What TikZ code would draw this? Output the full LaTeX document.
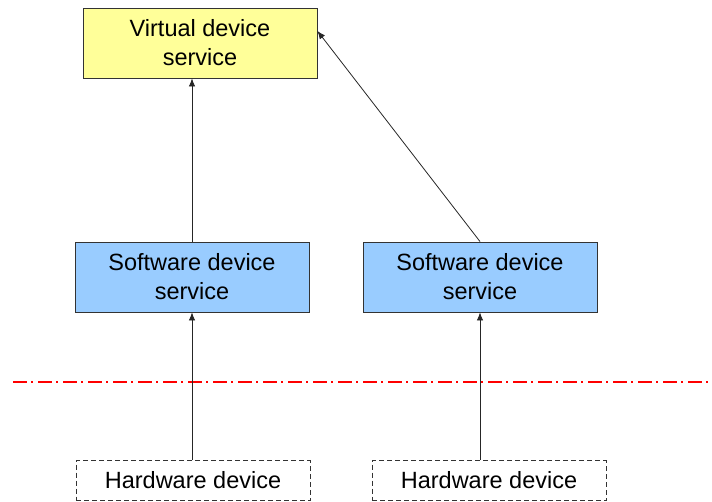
\documentclass[tikz,border=0pt]{standalone}
\usepackage{fontspec}
\setmainfont{Liberation Sans}
\usetikzlibrary{arrows.meta}
\definecolor{virtfill}{HTML}{FFFF99}
\definecolor{softfill}{HTML}{99CCFF}
\definecolor{boxline}{HTML}{333333}
\begin{document}
\begin{tikzpicture}[x=1pt,y=-1pt,
  box/.style={draw=boxline,line width=0.9pt,minimum width=234pt,minimum height=70pt,
    inner sep=0pt,align=center,font=\fontsize{23.5}{29}\selectfont},
  virt/.style={box,fill=virtfill},
  soft/.style={box,fill=softfill},
  hard/.style={box,draw=black!80,dashed,dash pattern=on 5pt off 3pt,minimum height=40pt,fill=white},
  link/.style={draw=black!85,line width=0.8pt,-{Latex[length=8pt,width=6.5pt]}}]
\useasboundingbox (0,0) rectangle (712,502);
% service layers
\node[virt] (virtual) at (200,43) {Virtual device\\service};
\node[soft] (swl) at (192,277) {Software device\\service};
\node[soft] (swr) at (480,277) {Software device\\service};
% hardware layer
\node[hard] (hwl) at (193,480.5) {Hardware device};
\node[hard] (hwr) at (489,480.5) {Hardware device};
% boundary between hardware and software
\coordinate (sepL) at (13,382);
\coordinate (sepR) at (712,382);
\draw[red,line width=1.2pt,dash pattern=on 14pt off 4pt on 2pt off 5pt] (sepL) -- (sepR);
% connections
\draw[link] (hwl.north -| swl.south) -- (swl.south);
\draw[link] (hwr.north -| swr.south) -- (swr.south);
\draw[link] (swl.north) -- (swl.north |- virtual.south);
\draw[link] (swr.north) -- ([yshift=12pt]virtual.east);
\end{tikzpicture}
\end{document}
